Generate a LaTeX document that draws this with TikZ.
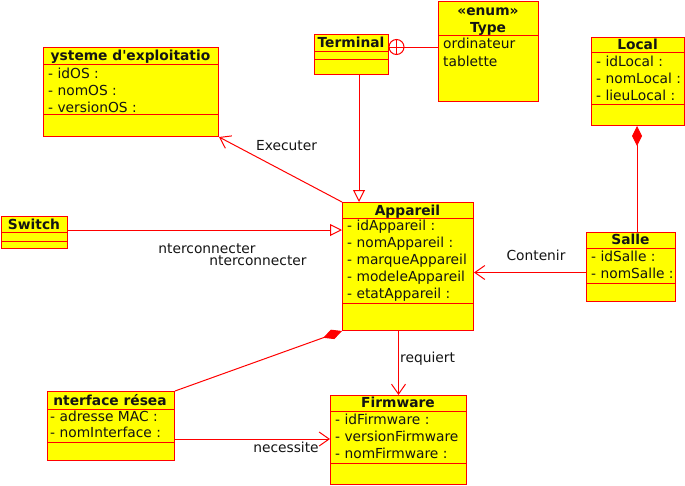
\documentclass[tikz,border=0pt]{standalone}
\usepackage{fontspec}
\setmainfont{DejaVu Sans}[Ligatures=TeXOff]
\usetikzlibrary{arrows.meta}
\definecolor{uy}{RGB}{255,255,0}
\definecolor{ur}{RGB}{255,0,0}
\definecolor{ut}{RGB}{20,20,20}
\begin{document}
\begin{tikzpicture}[x=1pt,y=-1pt,
  cls/.style={draw=ur, fill=uy, line width=1pt, inner sep=0pt, anchor=north west},
  sepl/.style={draw=ur, line width=1pt},
  ttl/.style={font=\bfseries\fontsize{13.8}{16}\selectfont, text=ut, inner sep=0pt, anchor=base},
  att/.style={font=\fontsize{13.8}{16}\selectfont, text=ut, inner sep=0pt, anchor=base west},
  lbl/.style={font=\fontsize{13.8}{16}\selectfont, text=ut, inner sep=0pt, anchor=base},
  conn/.style={draw=ur, line width=1pt},
  openarr/.style={-{Straight Barb[length=10pt,width=14pt]}},
  genarr/.style={-{Triangle[length=12pt,width=12pt,fill=white]}},
  comparr/.style={{Diamond[length=20pt,width=10pt]}-}
]
\useasboundingbox (0,0) rectangle (685,485);

% Systeme d'exploitation
\node[cls, minimum width=175pt, minimum height=89pt] (sys) at (43,47) {};
\draw[sepl] (sys.west |- 0,64) -- (sys.east |- 0,64);
\draw[sepl] (sys.west |- 0,114) -- (sys.east |- 0,114);
\node[ttl] (syst) at (130.5,60.5) {ysteme d'exploitatio};
\node[att] (sysa1) at (48,78) {- idOS :};
\node[att] (sysa2) at (48,95) {- nomOS :};
\node[att] (sysa3) at (48,112) {- versionOS :};

% Terminal
\node[cls, minimum width=74pt, minimum height=40pt] (term) at (314,34) {};
\draw[sepl] (term.west |- 0,51) -- (term.east |- 0,51);
\draw[sepl] (term.west |- 0,59) -- (term.east |- 0,59);
\node[ttl] (termt) at (351,47.5) {Terminal};

% Type
\node[cls, minimum width=100pt, minimum height=100pt] (type) at (438,1) {};
\draw[sepl] (type.west |- 0,35) -- (type.east |- 0,35);
\node[ttl] (typet1) at (488,15) {«enum»};
\node[ttl] (typet2) at (488,32) {Type};
\node[att] (typea1) at (443,48) {ordinateur};
\node[att] (typea2) at (443,66) {tablette};

% Local
\node[cls, minimum width=93pt, minimum height=88pt] (loc) at (591,37) {};
\draw[sepl] (loc.west |- 0,52) -- (loc.east |- 0,52);
\draw[sepl] (loc.west |- 0,104) -- (loc.east |- 0,104);
\node[ttl] (loct) at (637.5,49) {Local};
\node[att] (loca1) at (596,66) {- idLocal :};
\node[att] (loca2) at (596,83) {- nomLocal :};
\node[att] (loca3) at (596,100) {- lieuLocal :};

% Salle
\node[cls, minimum width=89pt, minimum height=69pt] (salle) at (586,232) {};
\draw[sepl] (salle.west |- 0,248) -- (salle.east |- 0,248);
\draw[sepl] (salle.west |- 0,283) -- (salle.east |- 0,283);
\node[ttl] (sallet) at (630.5,244.5) {Salle};
\node[att] (sallea1) at (591,261.5) {- idSalle :};
\node[att] (sallea2) at (591,278.5) {- nomSalle :};

% Appareil
\node[cls, minimum width=131pt, minimum height=128pt] (app) at (342,202) {};
\draw[sepl] (app.west |- 0,218) -- (app.east |- 0,218);
\draw[sepl] (app.west |- 0,303) -- (app.east |- 0,303);
\node[ttl] (appt) at (407.5,215) {Appareil};
\node[att] (appa1) at (347,230.7) {- idAppareil :};
\node[att] (appa2) at (347,247.5) {- nomAppareil :};
\node[att] (appa3) at (347,264.3) {- marqueAppareil};
\node[att] (appa4) at (347,281) {- modeleAppareil};
\node[att] (appa5) at (347,298) {- etatAppareil :};

% Switch
\node[cls, minimum width=66pt, minimum height=32pt] (sw) at (1,216) {};
\draw[sepl] (sw.west |- 0,232) -- (sw.east |- 0,232);
\draw[sepl] (sw.west |- 0,241) -- (sw.east |- 0,241);
\node[ttl] (swt) at (34,229) {Switch};

% Interface reseau
\node[cls, minimum width=127pt, minimum height=69pt] (intf) at (47,391) {};
\draw[sepl] (intf.west |- 0,409) -- (intf.east |- 0,409);
\draw[sepl] (intf.west |- 0,442) -- (intf.east |- 0,442);
\node[ttl] (intft) at (110,405) {nterface résea};
\node[att] (intfa1) at (50,421.7) {- adresse MAC :};
\node[att] (intfa2) at (50,437.7) {- nomInterface :};

% Firmware
\node[cls, minimum width=136pt, minimum height=89pt] (fw) at (330,395) {};
\draw[sepl] (fw.west |- 0,411) -- (fw.east |- 0,411);
\draw[sepl] (fw.west |- 0,463) -- (fw.east |- 0,463);
\node[ttl] (fwt) at (398,407.3) {Firmware};
\node[att] (fwa1) at (335,424) {- idFirmware :};
\node[att] (fwa2) at (335,441) {- versionFirmware};
\node[att] (fwa3) at (335,458.7) {- nomFirmware :};

% nesting circle
\node[circle, draw=ur, line width=1pt, minimum size=15pt, inner sep=0pt] (cp) at (396.5,47) {};
\draw[conn] (cp.north) -- (cp.south);
\draw[conn] (cp.west) -- (cp.east);
\draw[conn] (term.east |- cp.west) -- (cp.west);
\draw[conn] (cp.east) -- (type.west |- cp.east);

% connectors
\draw[conn, openarr] (app.north west) -- (sys.south east);
\node[lbl] (lexec) at (286.5,150.5) {Executer};

\draw[conn, genarr] (sw.east |- 0,230) -- (app.west |- 0,230);
\node[lbl] (lint1) at (207,253.5) {nterconnecter};
\node[lbl] (lint2) at (258,265) {nterconnecter};

\draw[conn, genarr] (359,0 |- term.south) -- (359,0 |- app.north);

\draw[conn, comparr] (637,0 |- loc.south) -- (637,0 |- salle.north);

\draw[conn, openarr] (salle.west |- 0,272.5) -- (app.east |- 0,272.5);
\node[lbl] (lcont) at (536,260.7) {Contenir};

\draw[conn, comparr] (app.south west) -- (intf.north east);

\draw[conn, openarr] (fw.north |- app.south) -- (fw.north);
\node[lbl, anchor=base west] (lreq) at (400,362.7) {requiert};

\draw[conn, openarr] (intf.east |- 0,439) -- (fw.west |- 0,439);
\node[lbl] (lnec) at (286,452.3) {necessite};
\end{tikzpicture}
\end{document}
